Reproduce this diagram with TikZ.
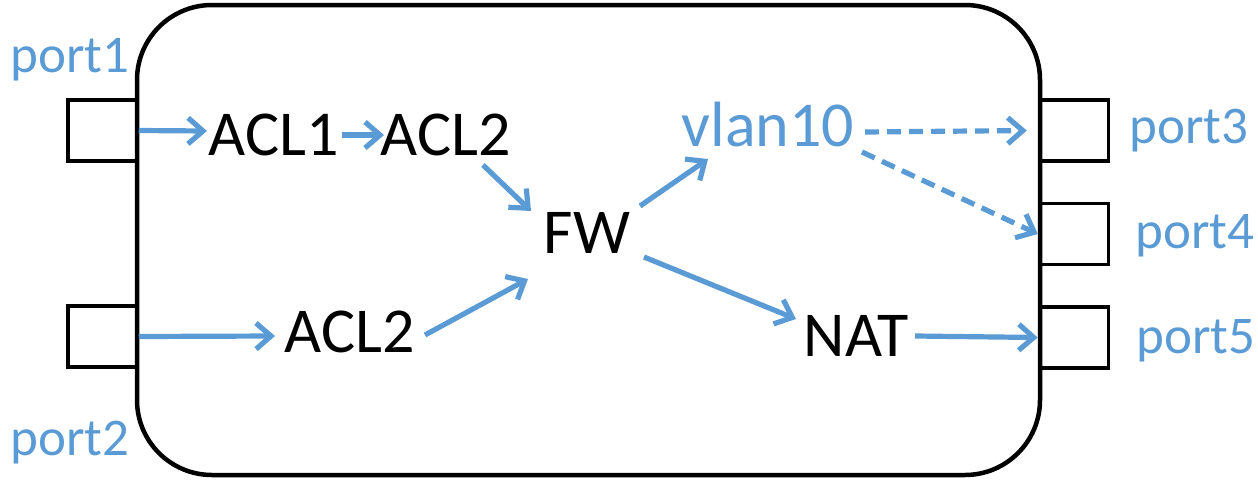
\documentclass[tikz,border=0pt]{standalone}
\usepackage{fontspec}
\setmainfont{Carlito}
\usetikzlibrary{arrows.meta,calc}
\definecolor{lblue}{HTML}{5B9BD5}
\tikzset{
  arr/.style={draw=lblue,line width=5.2pt,-{Straight Barb[length=15pt,width=26pt,line width=5.2pt]}},
  blk/.style={anchor=base,inner sep=0pt,font=\fontsize{64}{76}\selectfont},
  plab/.style={anchor=base,inner sep=0pt,text=lblue,font=\fontsize{53}{64}\selectfont},
  portbox/.style={draw=black,line width=3.5pt,inner sep=0pt,minimum width=69pt,minimum height=61pt},
  dev/.style={draw=black,line width=4.5pt,rounded corners=75pt,inner sep=0pt,minimum width=903pt,minimum height=470pt}
}
\begin{document}
\begin{tikzpicture}[x=1pt,y=-1pt]
\useasboundingbox (0,0) rectangle (1258,480);
\node[portbox] (p1) at (102.5,130.5) {};
\node[portbox] (p2) at (102.5,336.5) {};
\node[portbox] (p3) at (1074,130.5) {};
\node[portbox] (p4) at (1074,234) {};
\node[portbox] (p5) at (1074,337.5) {};
\node[dev] (box) at (588.5,240) {};
\node[plab] (l1) at (70,72) {port1};
\node[plab] (l2) at (70,455) {port2};
\node[plab] (l3) at (1189,143) {port3};
\node[plab] (l4) at (1195,248) {port4};
\node[plab] (l5) at (1196,353) {port5};
\node[blk] (acl1) at (274,155) {ACL1};
\node[blk] (acl2a) at (446,155) {ACL2};
\node[blk] (acl2b) at (350,352) {ACL2};
\node[blk] (fw) at (587,253) {FW};
\node[blk] (nat) at (856,356) {NAT};
\node[blk,text=lblue] (vlan) at (768,146) {vlan10};
\draw[arr] (p1.east) -- ($(acl1.base)+(-67,-24)$);
\draw[arr] ($(acl1.base)+(68,-20)$) -- ($(acl2a.base)+(-62,-20)$);
\draw[arr] ($(acl2a.base)+(37,10)$) -- ($(fw.base)+(-56,-42)$);
\draw[arr] (p2.east) -- ($(acl2b.base)+(-75,-16)$);
\draw[arr] ($(acl2b.base)+(75,-17)$) -- ($(fw.base)+(-59,26)$);
\draw[arr] ($(fw.base)+(53,-47)$) -- ($(vlan.base)+(-60,13)$);
\draw[arr] ($(fw.base)+(57,4)$) -- ($(nat.base)+(-60,-37)$);
\draw[arr,dash pattern=on 14pt off 8pt] ($(vlan.base)+(97,-14)$) -- ($(p3.west)+(-11,0)$);
\draw[arr,dash pattern=on 14pt off 8pt] ($(vlan.base)+(94,6)$) -- (p4.west);
\draw[arr] ($(nat.base)+(59,-20)$) -- (p5.west);
\end{tikzpicture}
\end{document}
